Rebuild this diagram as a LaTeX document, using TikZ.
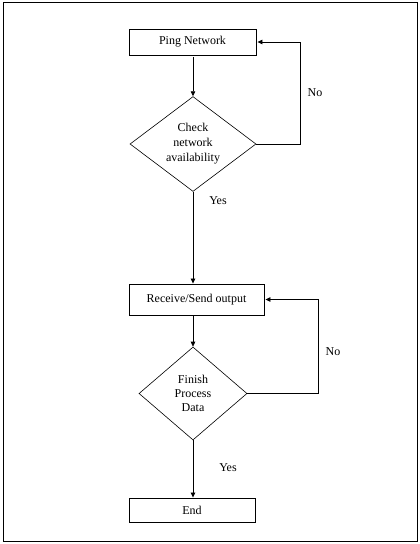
\documentclass[tikz,border=0pt]{standalone}
\usepackage{fontspec}
\setmainfont{Liberation Serif}
\usetikzlibrary{shapes.geometric,arrows.meta}
\begin{document}
\begin{tikzpicture}[x=1pt,y=-1pt,
  font=\fontsize{12}{14}\selectfont,
  line width=0.8pt,
  procbox/.style={draw,rectangle,inner sep=0pt,line width=0.9pt},
  decision/.style={draw,diamond,inner sep=0pt,align=center,line width=0.6pt},
  arr/.style={-{Triangle[length=5pt,width=4.5pt]}},
  lbl/.style={inner sep=0pt}]
\useasboundingbox (0,0) rectangle (420,544);
\draw[line width=1pt] (3,2) rectangle (417,541);
\node[procbox,minimum width=127pt,minimum height=26pt] (ping) at (192.5,42) {Ping Network};
\node[decision,minimum width=126pt,minimum height=93pt,font=\fontsize{12}{15}\selectfont] (chk) at (193,144) {Check\\network\\availability};
\node[procbox,minimum width=135pt,minimum height=31pt] (recv) at (196.5,299.5) {Receive/Send output};
\node[decision,minimum width=108pt,minimum height=93pt] (fin) at (193,393.5) {Finish\\Process\\Data};
\node[procbox,minimum width=126pt,minimum height=24pt] (end) at (192,510) {End};
\coordinate (c1) at (300,144);
\coordinate (c2) at (318,393.5);
\draw[arr] (ping.south -| chk.north) ++(0,2) -- (chk.north);
\draw[arr] (chk.east) -- (c1) -- (c1 |- ping.east) -- ([xshift=1pt]ping.east);
\draw[arr] (chk.south) -- (chk.south |- recv.north);
\draw[arr] (recv.south -| fin.north) -- (fin.north);
\draw[arr] (fin.east) -- (c2) -- (c2 |- recv.east) -- ([xshift=1pt]recv.east);
\draw[arr] (fin.south) -- (fin.south |- end.north);
\node[lbl] (no1) at (315,93) {No};
\node[lbl] (yes1) at (218,201) {Yes};
\node[lbl] (no2) at (333,352) {No};
\node[lbl] (yes2) at (228,468) {Yes};
\end{tikzpicture}
\end{document}
